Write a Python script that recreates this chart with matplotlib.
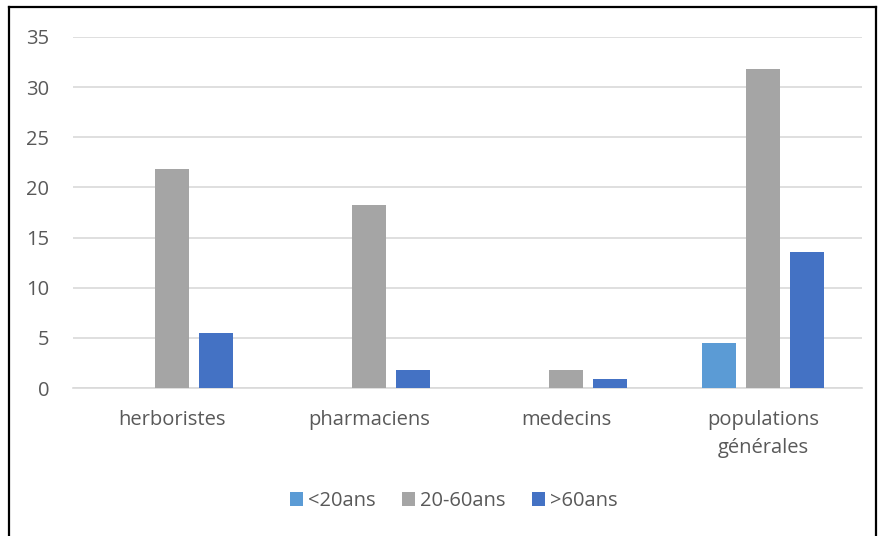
import matplotlib
matplotlib.use("Agg")
import matplotlib.pyplot as plt
import numpy as np
from matplotlib.lines import Line2D
from matplotlib.patches import Patch

CATEGORIES = ["herboristes", "pharmaciens", "medecins", "populations\ngénérales"]
SERIES = ["<20ans", "20-60ans", ">60ans"]
VALUES_MOINS20 = [0, 0, 0, 4.5]
VALUES_20_60 = [21.8, 18.2, 1.8, 31.8]
VALUES_PLUS60 = [5.45, 1.8, 0.9, 13.6]
COLORS = ["#5B9BD5", "#A5A5A5", "#4472C4"]
TEXT_COLOR = "#595959"
FS = 14.5

plt.rcParams["font.family"] = ["Open Sans", "DejaVu Sans"]

fig = plt.figure(figsize=(8.8, 5.36), dpi=100)
ax = fig.add_axes([73 / 880, 1 - 388 / 536, (862 - 73) / 880, (388 - 37) / 536])

x = np.arange(len(CATEGORIES))
step = 0.223
width = 0.173
for i, (vals, color) in enumerate(zip([VALUES_MOINS20, VALUES_20_60, VALUES_PLUS60], COLORS)):
    ax.bar(x + (i - 1) * step, vals, width=width, color=color, zorder=3)

ax.set_xlim(-0.5, len(CATEGORIES) - 0.5)
ax.set_ylim(0, 35)
ax.set_yticks(range(0, 36, 5))
ax.set_xticks(x)
ax.set_xticklabels(CATEGORIES, fontsize=FS, color=TEXT_COLOR, linespacing=1.5)
ax.tick_params(axis="x", length=0, pad=16)
ax.tick_params(axis="y", length=0, pad=17, labelsize=FS, labelcolor=TEXT_COLOR)
ax.grid(axis="y", color="#D9D9D9", linewidth=1.2, zorder=0)
for side in ("top", "right", "left"):
    ax.spines[side].set_visible(False)
ax.spines["bottom"].set_color("#D9D9D9")
ax.spines["bottom"].set_linewidth(1.2)

handles = [Patch(facecolor=c, edgecolor="none") for c in COLORS]
fig.legend(handles, SERIES, loc="center", bbox_to_anchor=(454 / 880, 1 - 501 / 536),
           ncol=3, frameon=False, fontsize=FS, handlelength=0.65, handleheight=0.65,
           handletextpad=0.25, columnspacing=1.3, labelcolor=TEXT_COLOR)

# cadre du graphique (le bas est coupe dans l'image)
for xs, ys in [([9 / 880, 9 / 880], [0, 1 - 7 / 536]),
               ([9 / 880, 876 / 880], [1 - 7 / 536, 1 - 7 / 536]),
               ([876 / 880, 876 / 880], [1 - 7 / 536, 0])]:
    fig.add_artist(Line2D(xs, ys, transform=fig.transFigure, color="black", linewidth=1.6))

fig.savefig("out.png", dpi=100)
